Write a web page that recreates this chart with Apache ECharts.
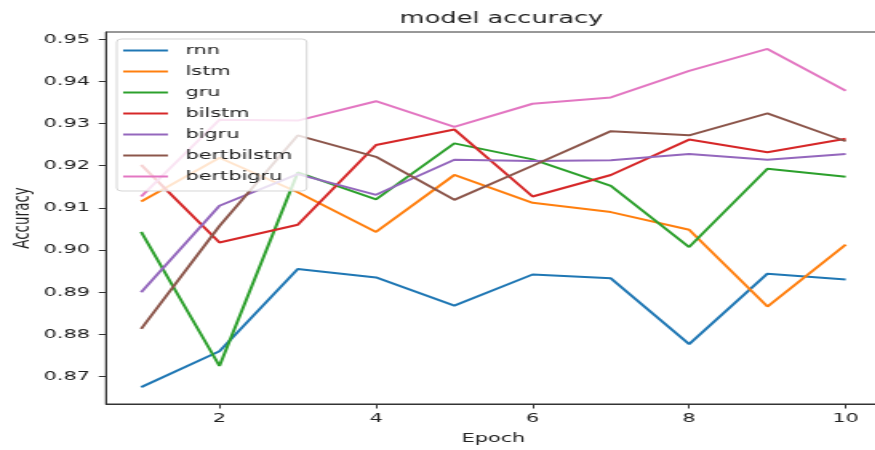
<!DOCTYPE html>
<html>
<head>
<meta charset="utf-8">
<script src="https://cdn.jsdelivr.net/npm/echarts@6.0.0/dist/echarts.min.js"></script>
<style>
html, body { margin: 0; padding: 0; background: #ffffff; overflow: hidden; }
#wrap { width: 875px; height: 450px; overflow: hidden; position: relative; }
#chart { width: 547px; height: 450px; transform: scaleX(1.6); transform-origin: 0 0; }
</style>
</head>
<body>
<div id="wrap"><div id="chart"></div></div>
<script>
const epochs = [1, 2, 3, 4, 5, 6, 7, 8, 9, 10];
const seriesNames = ['rnn', 'lstm', 'gru', 'bilstm', 'bigru', 'bertbilstm', 'bertbigru'];
const rnn        = [0.8675, 0.8760, 0.8955, 0.8935, 0.8868, 0.8942, 0.8933, 0.8777, 0.8944, 0.8930];
const lstm       = [0.9115, 0.9219, 0.9137, 0.9043, 0.9178, 0.9112, 0.9090, 0.9048, 0.8866, 0.9013];
const gru        = [0.9043, 0.8725, 0.9184, 0.9120, 0.9253, 0.9215, 0.9152, 0.9007, 0.9193, 0.9174];
const bilstm     = [0.9202, 0.9018, 0.9060, 0.9249, 0.9286, 0.9127, 0.9178, 0.9262, 0.9232, 0.9264];
const bigru      = [0.8900, 0.9105, 0.9180, 0.9131, 0.9214, 0.9211, 0.9213, 0.9228, 0.9214, 0.9228];
const bertbilstm = [0.8813, 0.9057, 0.9272, 0.9221, 0.9119, 0.9200, 0.9282, 0.9272, 0.9324, 0.9258];
const bertbigru  = [0.9127, 0.9309, 0.9307, 0.9353, 0.9292, 0.9347, 0.9362, 0.9425, 0.9477, 0.9378];
const xTicks = [2, 4, 6, 8, 10];
const yTicks = [0.87, 0.88, 0.89, 0.90, 0.91, 0.92, 0.93, 0.94, 0.95];

const colors = ['#1f77b4', '#ff7f0e', '#2ca02c', '#d62728', '#9467bd', '#8c564b', '#e377c2'];
const allValues = [rnn, lstm, gru, bilstm, bigru, bertbilstm, bertbigru];

// matplotlib-style 5% margins
const flat = allValues.flat();
const dMin = Math.min(...flat), dMax = Math.max(...flat);
const yPad = (dMax - dMin) * 0.05;
const xPad = (epochs[epochs.length - 1] - epochs[0]) * 0.05;

const FONT = 'DejaVu Sans';
const TXT = '#222';

const chart = echarts.init(document.getElementById('chart'), null, { renderer: 'canvas' });
chart.setOption({
  animation: false,
  backgroundColor: '#ffffff',
  color: colors,
  title: {
    text: 'model accuracy',
    left: 308.4,
    top: 6,
    textAlign: 'center',
    textStyle: { fontFamily: FONT, fontSize: 16, fontWeight: 'normal', color: TXT }
  },
  grid: {
    left: 66.25, right: -3.6, top: 32, bottom: 46,
    containLabel: false,
    outerBoundsMode: 'none',
    show: true, borderColor: '#333', borderWidth: 1, backgroundColor: 'transparent'
  },
  legend: {
    orient: 'vertical',
    left: 73, top: 39,
    padding: [4, 9, 7, 4],
    itemGap: 6,
    icon: 'rect',
    itemWidth: 28,
    itemHeight: 2,
    backgroundColor: 'rgba(255,255,255,0.8)',
    borderColor: 'rgba(204,204,204,0.8)',
    borderWidth: 1,
    borderRadius: 3,
    textStyle: { fontFamily: FONT, fontSize: 13, color: TXT, lineHeight: 15, padding: [0, 0, 0, 6] },
    data: seriesNames
  },
  xAxis: {
    type: 'value',
    min: epochs[0] - xPad,
    max: epochs[epochs.length - 1] + xPad,
    name: 'Epoch',
    nameLocation: 'middle',
    nameGap: 28,
    nameMoveOverlap: false,
    nameTextStyle: { fontFamily: FONT, fontSize: 13, color: TXT },
    axisLine: { show: true, lineStyle: { color: '#333', width: 1 } },
    axisTick: { show: true, length: 4.5, lineStyle: { color: '#333' }, customValues: xTicks },
    axisLabel: { fontFamily: FONT, fontSize: 13, color: TXT, margin: 8, customValues: xTicks,
      formatter: v => String(Math.round(v)) },
    splitLine: { show: false }
  },
  yAxis: {
    type: 'value',
    min: dMin - yPad,
    max: dMax + yPad,
    name: 'Accuracy',
    nameLocation: 'middle',
    nameRotate: 90,
    nameGap: 45,
    nameMoveOverlap: false,
    nameTextStyle: { fontFamily: FONT, fontSize: 13.5, color: TXT },
    axisLine: { show: true, lineStyle: { color: '#333', width: 1 } },
    axisTick: { show: true, length: 4.5, lineStyle: { color: '#333' }, customValues: yTicks },
    axisLabel: { fontFamily: FONT, fontSize: 13, color: TXT, margin: 10, customValues: yTicks,
      formatter: v => v.toFixed(2) },
    splitLine: { show: false }
  },
  series: seriesNames.map((name, i) => ({
    name: name,
    type: 'line',
    symbol: 'none',
    showSymbol: false,
    lineStyle: { width: 2, color: colors[i] },
    itemStyle: { color: colors[i] },
    emphasis: { disabled: true },
    data: epochs.map((e, j) => [e, allValues[i][j]])
  }))
});
</script>
</body>
</html>
